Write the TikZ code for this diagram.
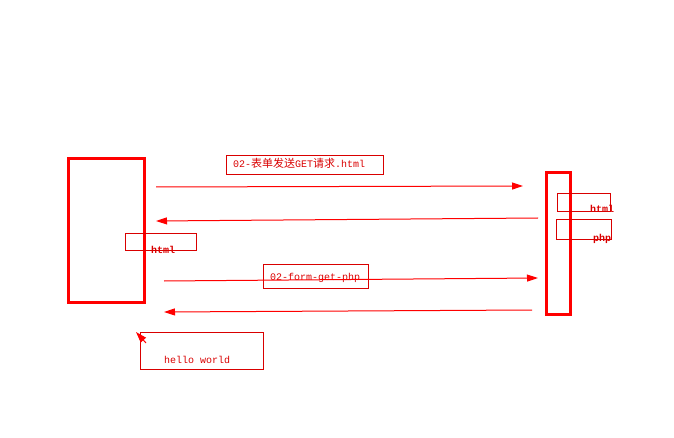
\documentclass[tikz,border=0pt]{standalone}
\usepackage{fontspec}
\setmonofont{Liberation Mono}
\newfontfamily\cjk{Noto Sans CJK SC}
\usetikzlibrary{arrows.meta}
\begin{document}
\begin{tikzpicture}[x=1pt,y=-1pt,
  thickbox/.style={draw=red,line width=3pt,inner sep=0pt,outer sep=0pt,anchor=north west},
  thinbox/.style={draw=red!85!black,line width=0.9pt,inner sep=0pt,anchor=north west},
  lbl/.style={text=red!85!black,font=\ttfamily\fontsize{10}{12}\selectfont,inner sep=0pt,anchor=base west},
  msg/.style={draw=red,line width=1pt,-{Triangle[length=11pt,width=7pt]}}]
\useasboundingbox (0,0) rectangle (674,438);
% lifelines
\node[thickbox,minimum width=76pt,minimum height=144pt] (client) at (68.5,158.5) {};
\node[thickbox,minimum width=24pt,minimum height=142pt] (server) at (546.5,172.5) {};
% label boxes
\node[thinbox,minimum width=157pt,minimum height=19pt] (b1) at (226,155) {};
\node[thinbox,minimum width=71pt,minimum height=17pt] (b2) at (125,233) {};
\node[thinbox,minimum width=105pt,minimum height=24pt] (b3) at (263,264) {};
\node[thinbox,minimum width=123pt,minimum height=37pt] (b4) at (140,332) {};
\node[thinbox,minimum width=53pt,minimum height=18pt] (b5) at (557,193) {};
\node[thinbox,minimum width=55pt,minimum height=20pt] (b6) at (556,219) {};
% texts
\node[lbl] (t1) at (233,168) {02-{\cjk\fontsize{11}{12}\selectfont 表单发送}GET{\cjk\fontsize{11}{12}\selectfont 请求}.html};
\node[lbl,font=\ttfamily\bfseries\fontsize{10}{12}\selectfont] (t2) at (151,254) {html};
\node[lbl] (t3) at (270,280) {02-form-get-php};
\node[lbl] (t4) at (164,363) {hello world};
\node[lbl,font=\ttfamily\bfseries\fontsize{10}{12}\selectfont] (t5) at (590,213) {html};
\node[lbl,font=\ttfamily\bfseries\fontsize{10}{12}\selectfont] (t6) at (593,241) {php};
% message end points
\coordinate (m1s) at (156,187); \coordinate (m1e) at (523,186);
\coordinate (m2s) at (538,218); \coordinate (m2e) at (156,221);
\coordinate (m3s) at (164,281); \coordinate (m3e) at (538,278);
\coordinate (m4s) at (532,310); \coordinate (m4e) at (164,312);
\coordinate (m5s) at (146,343); \coordinate (m5e) at (136,332);
\draw[msg] (m1s) -- (m1e);
\draw[msg] (m2s) -- (m2e);
\draw[msg] (m3s) -- (m3e);
\draw[msg] (m4s) -- (m4e);
\draw[msg] (m5s) -- (m5e);
\end{tikzpicture}
\end{document}
